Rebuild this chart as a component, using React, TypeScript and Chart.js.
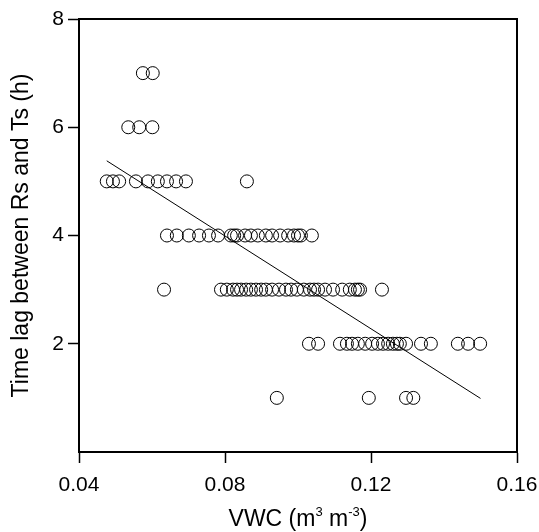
import { useEffect, useRef } from 'react';
import { Chart, registerables } from 'chart.js';

Chart.register(...registerables);

// Time lag levels (h) and the VWC values (m3 m-3) observed at each level
const VWC_LAG7 = [0.0575, 0.0602];
const VWC_LAG6 = [0.0535, 0.0565, 0.0601];
const VWC_LAG5 = [0.0476, 0.0493, 0.0510, 0.0556, 0.0589, 0.0616, 0.0641, 0.0666, 0.0693, 0.0860];
const VWC_LAG4 = [0.0641, 0.0668, 0.0701, 0.0729, 0.0756, 0.0781, 0.0816, 0.0825, 0.0833, 0.0855, 0.0871, 0.0890, 0.0912, 0.0929, 0.0951, 0.0973, 0.0989, 0.1000, 0.1008, 0.1038];
const VWC_LAG3 = [0.0633, 0.0789, 0.0805, 0.0822, 0.0833, 0.0844, 0.0858, 0.0871, 0.0885, 0.0899, 0.0912, 0.0929, 0.0948, 0.0967, 0.0981, 0.0997, 0.1016, 0.1033, 0.1044, 0.1055, 0.1074, 0.1096, 0.1121, 0.1142, 0.1156, 0.1164, 0.1170, 0.1230];
const VWC_LAG2 = [0.1030, 0.1055, 0.1115, 0.1134, 0.1148, 0.1164, 0.1184, 0.1203, 0.1219, 0.1233, 0.1247, 0.1260, 0.1271, 0.1279, 0.1296, 0.1337, 0.1364, 0.1438, 0.1466, 0.1499];
const VWC_LAG1 = [0.0942, 0.1194, 0.1296, 0.1316];

const LAG_LEVELS = [7, 6, 5, 4, 3, 2, 1];
const VWC_BY_LEVEL = [VWC_LAG7, VWC_LAG6, VWC_LAG5, VWC_LAG4, VWC_LAG3, VWC_LAG2, VWC_LAG1];

// Regression line end points
const FIT_X = [0.0476, 0.15];
const FIT_Y = [5.38, 0.99];

const X_TICKS = [0.04, 0.08, 0.12, 0.16];
const Y_TICKS = [2, 4, 6, 8];
const X_MIN = 0.04;
const X_MAX = 0.16;
const Y_MIN = 0;
const Y_MAX = 8;

const FONT = '"Liberation Sans", Arial, Helvetica, sans-serif';

export default function App() {
  const ref = useRef<HTMLCanvasElement | null>(null);

  useEffect(() => {
    const canvas = ref.current;
    if (!canvas) return;

    const points: { x: number; y: number }[] = [];
    LAG_LEVELS.forEach((lag, i) => {
      VWC_BY_LEVEL[i].forEach((v) => points.push({ x: v, y: lag }));
    });
    const fit = FIT_X.map((x, i) => ({ x, y: FIT_Y[i] }));

    const framePlugin = {
      id: 'frame',
      afterDatasetsDraw(chart: any) {
        const { ctx, chartArea } = chart;
        ctx.save();
        ctx.strokeStyle = '#000';
        ctx.lineWidth = 2;
        ctx.beginPath();
        ctx.moveTo(chartArea.left, chartArea.top);
        ctx.lineTo(chartArea.right, chartArea.top);
        ctx.lineTo(chartArea.right, chartArea.bottom);
        ctx.stroke();
        // x-axis title with superscripts
        const cx = (chartArea.left + chartArea.right) / 2;
        const y = 526;
        const parts: [string, boolean][] = [
          ['VWC (m', false],
          ['3', true],
          [' m', false],
          ['-3', true],
          [')', false],
        ];
        const big = `23px ${FONT}`;
        const small = `13px ${FONT}`;
        let total = 0;
        parts.forEach(([t, sup]) => {
          ctx.font = sup ? small : big;
          total += ctx.measureText(t).width;
        });
        let x = cx - total / 2;
        ctx.fillStyle = '#000';
        ctx.textBaseline = 'alphabetic';
        ctx.textAlign = 'left';
        parts.forEach(([t, sup]) => {
          ctx.font = sup ? small : big;
          ctx.fillText(t, x, sup ? y - 10 : y);
          x += ctx.measureText(t).width;
        });
        ctx.restore();
      },
    };

    const chart = new Chart(canvas, {
      type: 'scatter',
      data: {
        datasets: [
          {
            label: 'Time lag',
            data: points,
            pointRadius: 6.5,
            pointBorderWidth: 1,
            pointBorderColor: '#000',
            pointBackgroundColor: 'rgba(255,255,255,0)',
            showLine: false,
          },
          {
            label: 'Fit',
            data: fit,
            showLine: true,
            borderColor: '#000',
            borderWidth: 1,
            pointRadius: 0,
            fill: false,
          },
        ],
      },
      options: {
        responsive: false,
        animation: false,
        layout: { padding: { top: 19, right: 22, left: 0, bottom: 0 } },
        plugins: {
          legend: { display: false },
          tooltip: { enabled: false },
        },
        scales: {
          x: {
            type: 'linear',
            min: X_MIN,
            max: X_MAX,
            afterBuildTicks: (scale: any) => {
              scale.ticks = X_TICKS.map((v) => ({ value: v }));
            },
            afterFit: (scale: any) => {
              scale.height = 80;
              scale.paddingLeft = 0;
              scale.paddingRight = 0;
            },
            ticks: {
              color: '#000',
              padding: 10,
              font: { family: FONT, size: 21 },
              callback: (v: any) => Number(v).toFixed(2),
              maxRotation: 0,
            },
            grid: {
              display: true,
              drawOnChartArea: false,
              drawTicks: true,
              tickLength: 11,
              tickWidth: 1.5,
              tickColor: '#000',
            },
            border: { display: true, color: '#000', width: 2 },
          },
          y: {
            type: 'linear',
            min: Y_MIN,
            max: Y_MAX,
            afterBuildTicks: (scale: any) => {
              scale.ticks = Y_TICKS.map((v) => ({ value: v }));
            },
            afterFit: (scale: any) => {
              scale.width = 79;
              scale.paddingTop = 0;
              scale.paddingBottom = 0;
            },
            ticks: {
              color: '#000',
              padding: 4,
              font: { family: FONT, size: 21 },
            },
            title: {
              display: true,
              text: 'Time lag between Rs and Ts (h)',
              color: '#000',
              font: { family: FONT, size: 23 },
              padding: { top: 8, bottom: 0 },
            },
            grid: {
              display: true,
              drawOnChartArea: false,
              drawTicks: true,
              tickLength: 11,
              tickWidth: 1.5,
              tickColor: '#000',
            },
            border: { display: true, color: '#000', width: 2 },
          },
        },
      },
      plugins: [framePlugin],
    });

    return () => chart.destroy();
  }, []);

  return (
    <div style={{ position: 'fixed', left: 0, top: 0, width: 539, height: 532, background: '#fff' }}>
      <canvas ref={ref} width={539} height={532} style={{ display: 'block' }} />
    </div>
  );
}
